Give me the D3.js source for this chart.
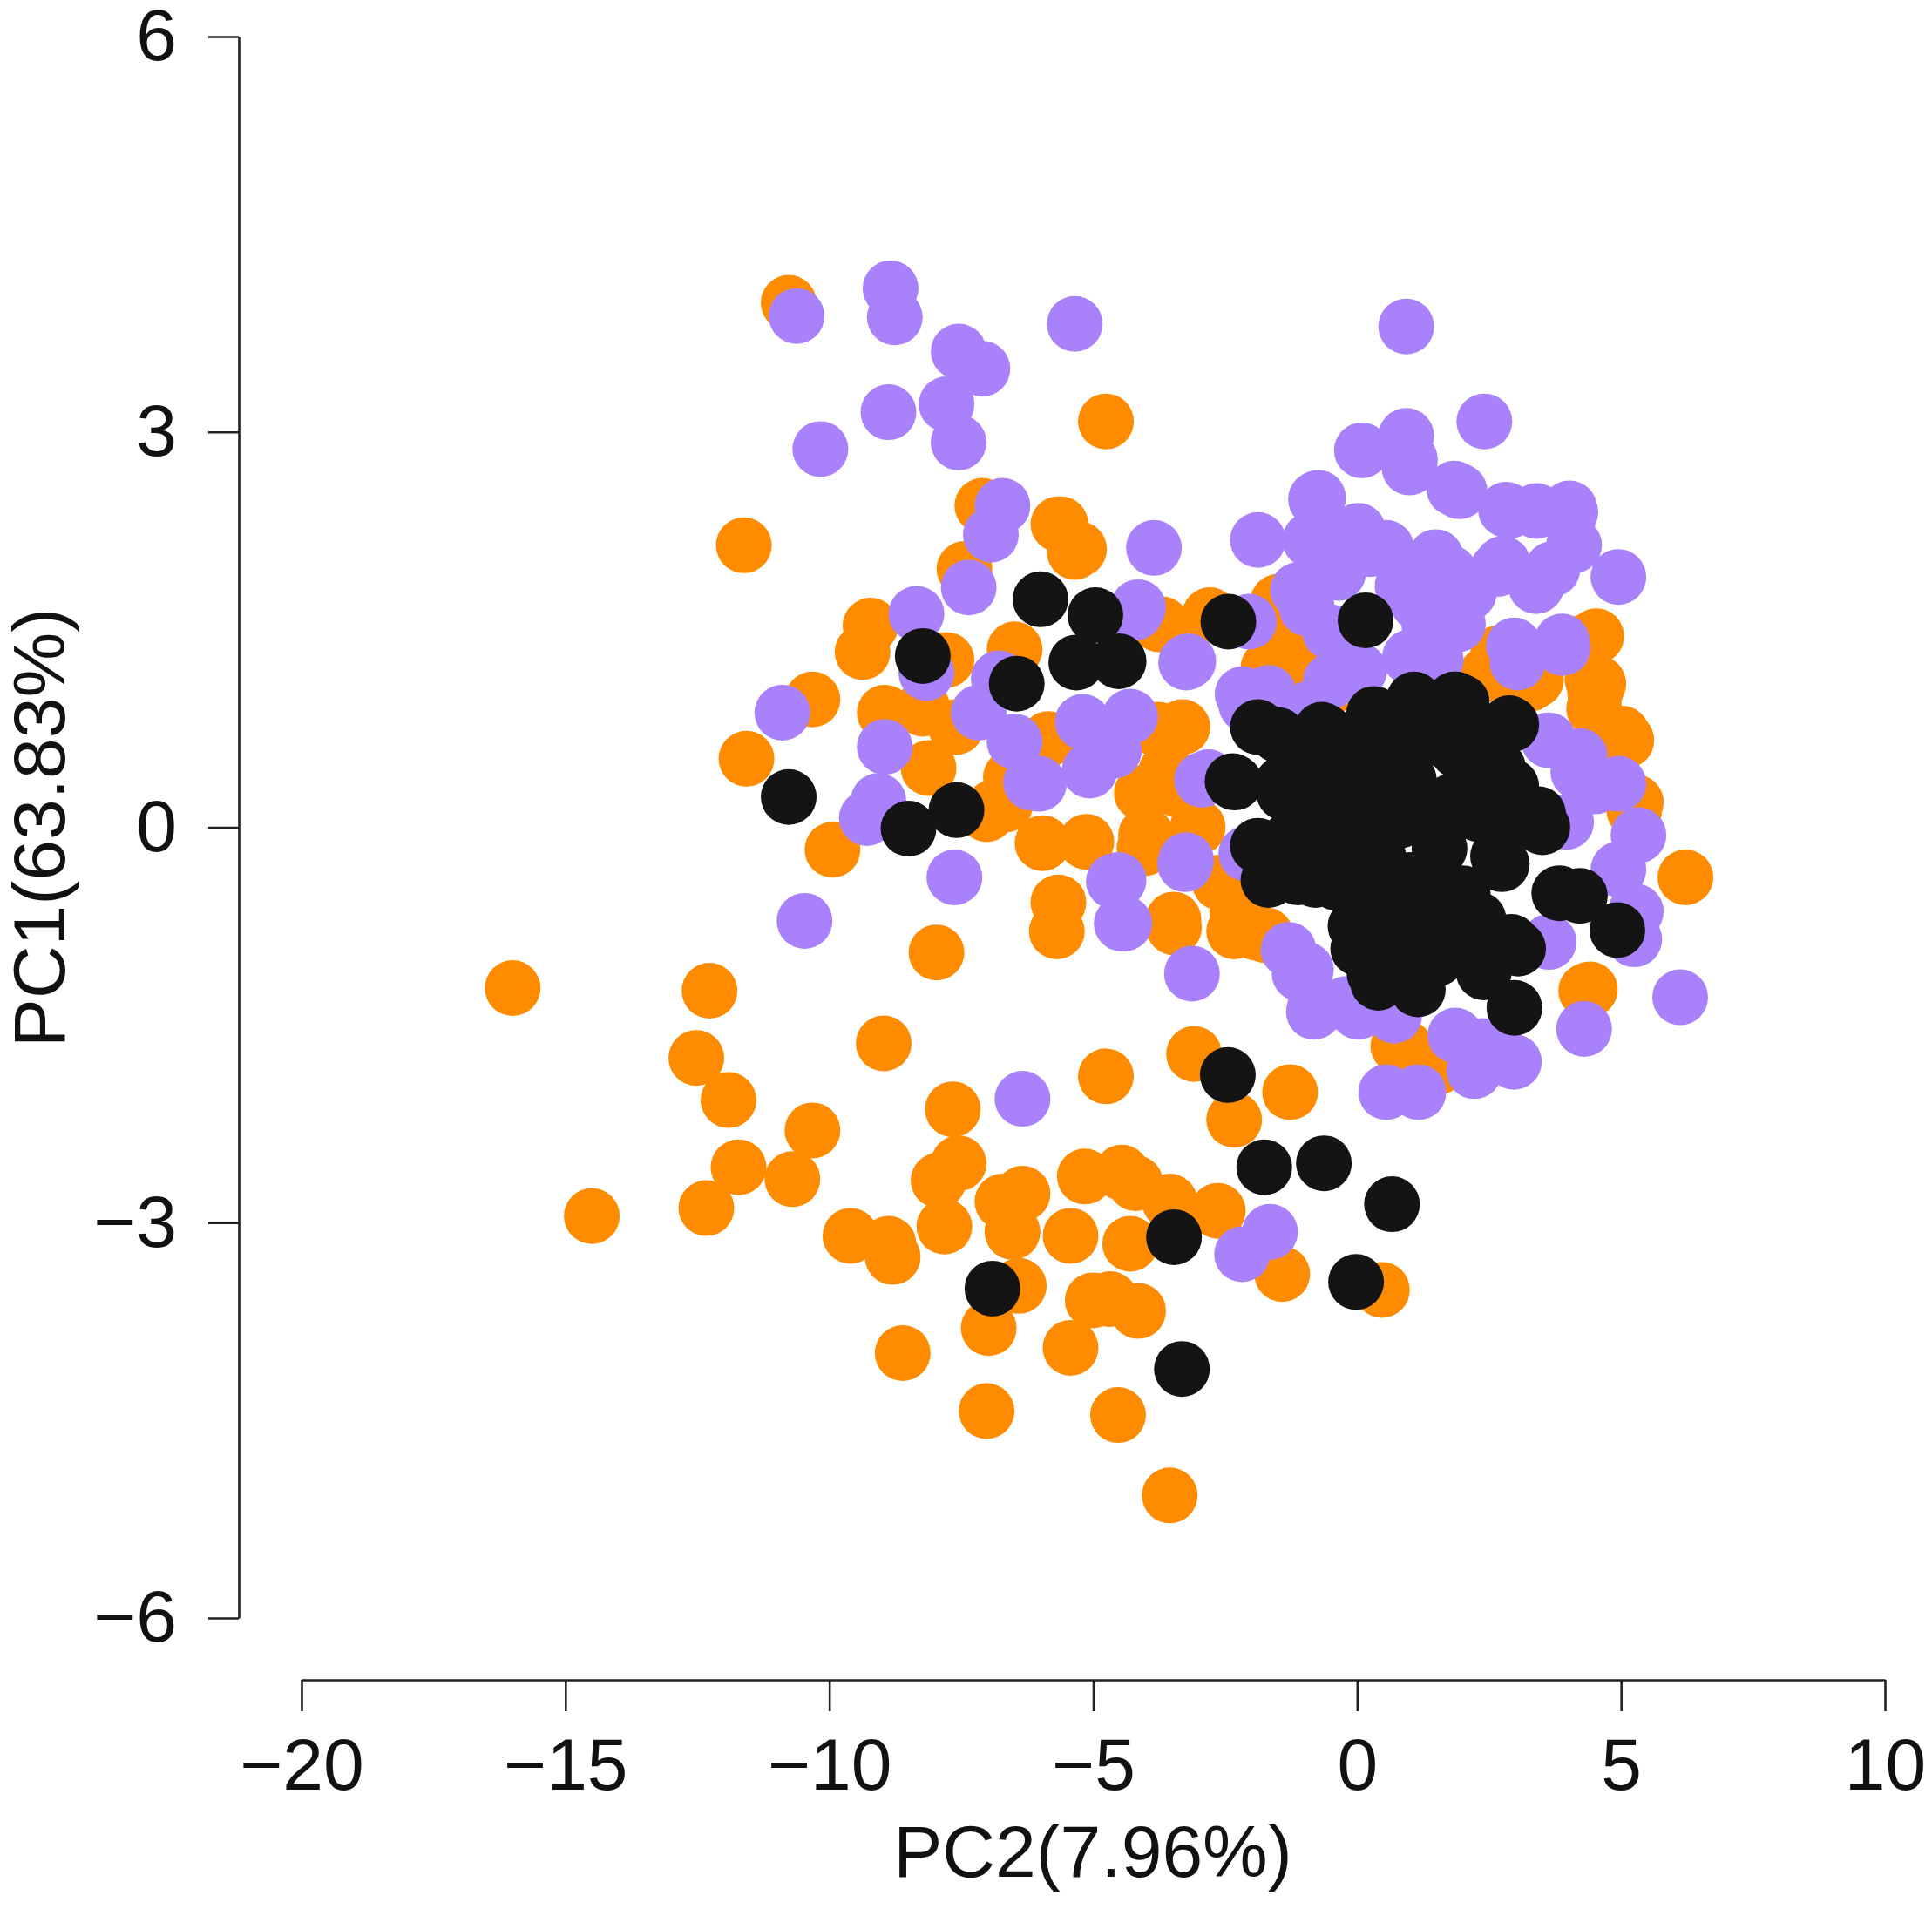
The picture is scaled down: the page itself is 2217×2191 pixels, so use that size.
<!DOCTYPE html>
<html>
<head>
<meta charset="utf-8">
<script src="https://cdn.jsdelivr.net/npm/d3@7"></script>
<style>
  body { margin: 0; background: #fff; }
  text { font-family: "Liberation Sans", Arial, sans-serif; }
</style>
</head>
<body>
<script>
//Data: [PC2, PC1] per sample
const orangePts = [
  [-16.0,-1.22],[-14.5,-2.95],[-11.62,2.14],[-11.57,0.52],[-10.77,3.98],[-10.32,0.97],[-9.94,-0.17],
  [-12.27,-1.24],[-12.52,-1.75],[-11.91,-2.07],[-11.72,-2.58],[-12.33,-2.89],[-10.70,-2.67],[-10.32,-2.30],
  [-8.97,-1.64],[-7.97,-0.95],[-5.69,-0.79],[-4.76,-1.89],[-7.66,-2.14],[-7.55,-2.55],[-7.93,-2.68],
  [-6.34,-2.78],[-6.72,-2.84],[-7.82,-3.03],[-6.53,-3.07],[-9.60,-3.10],[-8.88,-3.16],[-8.80,-3.26],
  [-5.43,-3.10],[-5.16,-2.65],[-6.41,-3.48],[-6.98,-3.80],[-8.61,-3.99],[-5.43,-3.95],[-7.02,-4.43],
  [-5.01,-3.59],[-4.53,-4.46],[-3.55,-5.07],[-4.46,-2.62],[-4.2,-2.7],[-3.55,-2.84],[-2.64,-2.91],
  [-4.30,-3.16],[-4.68,-3.58],[-4.15,-3.67],[-3.09,-1.72],[-2.33,-2.22],[-1.27,-2.01],[-1.42,-3.39],
  [0.47,-3.51],[-3.47,-0.76],[-2.33,-0.79],[-1.73,-0.82],[4.34,-1.24],[0.78,-1.66],[1.53,-1.82],
  [6.22,-0.38],[5.10,0.66],[4.51,1.02],[5.28,0.19],[-1.68,1.21],[-0.50,1.18],[2.45,1.16],[3.33,1.13],
  [-2.27,-0.64],[-1.91,-0.80],[-4.76,3.08],[-7.1,2.44],[-5.66,2.30],[-5.35,2.09],[-7.44,1.96],
  [-9.22,1.53],[-9.37,1.33],[-7.78,1.27],[-6.49,1.35],[-8.95,0.87],[-8.23,0.90],[-8.12,0.45],
  [-7.02,0.10],[-5.96,-0.12],[-5.66,-0.57],[-2.79,1.61],[-3.70,1.54],[-1.50,1.54],[-1.42,1.22],
  [-0.36,1.09],[4.34,1.41],[4.57,1.09],[5.02,0.71],[4.49,0.90],[3.28,1.09],[2.67,1.32],[-3.77,0.74],
  [-4.08,0.26],[-3.62,0.42],[-4.0,-0.06],[-3.02,0.0],[5.25,0.13],[-3.75,1.54],[-1.50,1.71],[-1.22,1.40],
  [-0.29,1.12],[-5.85,0.67],[-3.31,0.76],[-3.42,0.29],[-5.13,-0.11],[-4.03,-0.16],[-3.48,-0.70],
  [-2.21,-0.77],[-2.60,-0.42],[-6.67,0.17],[-7.6,0.76],[-6.56,0.38],[-5.62,2.30],[-5.27,2.11],
  [-6.9,0.15],[4.41,-1.23],[0.91,-1.67],[4.53,1.45],[4.46,1.12],[3.39,1.12],[-1.22,1.45]
];

const purplePts = [
  [-10.62,3.88],[-8.84,4.09],[-8.76,3.87],[-5.35,3.82],[-7.55,3.61],[-7.10,3.48],[-8.88,3.15],
  [-7.78,3.21],[-7.55,2.92],[-10.17,2.87],[-6.72,2.44],[-6.94,2.22],[-7.36,1.82],[-8.35,1.62],
  [-8.16,1.17],[-6.79,1.13],[-7.17,0.87],[-6.49,0.65],[-6.03,0.33],[-5.2,0.80],[-10.89,0.87],
  [-8.95,0.61],[-9.29,0.07],[-9.07,0.20],[-7.63,-0.38],[-10.47,-0.71],[0.93,3.80],[2.41,3.08],
  [0.93,2.97],[0.09,2.86],[1.0,2.79],[-0.74,2.50],[1.84,2.57],[2.82,2.41],[3.4,2.4],[4.04,2.39],
  [4.11,2.14],[4.95,1.90],[-3.85,2.12],[-1.88,2.18],[-0.89,2.18],[0.02,2.25],[0.55,2.12],[1.76,1.93],
  [2.67,1.96],[3.43,1.86],[-1.12,1.80],[-0.36,1.93],[1.16,1.70],[1.91,1.54],[2.97,1.38],[3.88,1.41],
  [-4.15,1.67],[-3.24,1.25],[-0.06,1.16],[-0.51,1.48],[1.0,1.29],[-2.10,0.93],[-2.94,0.36],
  [-4.30,0.84],[-4.61,0.58],[-3.24,-0.25],[-4.61,-0.41],[4.19,0.42],[4.95,0.33],[5.33,-0.06],
  [4.95,-0.32],[3.96,0.04],[-4.46,-0.73],[-3.13,-1.11],[-0.97,-1.08],[-0.82,-1.40],[5.25,-0.85],
  [6.12,-1.29],[4.30,-1.53],[2.37,-1.66],[2.97,-1.78],[2.22,-1.85],[0.55,-2.01],[1.16,-2.01],
  [0.02,-1.40],[0.70,-1.43],[-1.65,-3.07],[-2.18,-3.24],[-6.34,-2.06],[-4.2,1.63],[-3.2,1.26],
  [-2.05,1.56],[-0.95,1.66],[0.04,1.19],[-2.05,0.95],[-1.22,0.86],[-4.63,0.71],[-5.07,0.43],
  [-6.18,0.34],[-2.82,0.38],[-4.52,-0.40],[-3.26,-0.28],[-4.41,-0.73],[4.51,0.31],[5.28,-0.64],
  [4.22,0.54],[3.63,0.66],[-1.09,-1.11],[-0.79,-1.34],[-0.20,-1.34],[3.63,-0.87],[1.86,-1.58],
  [-1.68,1.02],[-0.50,1.11],[3.04,1.25],[-2.1,-0.2],[-1.3,-0.93],
  [0.99,2.73],[-0.78,2.49],[1.94,2.55],[2.88,2.40],[4.02,2.42],[-0.65,2.18],[0.23,2.11],[1.49,2.05],
  [2.76,2.00],[3.70,1.96],[-1.03,1.78],[0.86,1.83],[2.12,1.78],[3.39,1.83],[1.37,1.52],[3.07,1.34],
  [3.89,1.36],[-0.09,1.16],[1.49,1.27],[-2.17,1.01],[-0.91,0.90],[4.34,0.35]
];

const blackPts = [
  [-10.77,0.23],[-8.50,-0.01],[-7.59,0.13],[-8.23,1.30],[-6.0,1.73],[-6.45,1.09],[-5.32,1.25],
  [-4.96,1.61],[-4.52,1.26],[-2.44,1.56],[0.16,1.57],[-1.88,0.76],[-0.67,0.74],[0.32,0.86],[1.20,0.90],
  [-2.32,0.34],[-1.22,0.34],[-1.88,-0.14],[-1.61,-0.37],[-0.40,-0.42],[0.15,-0.89],[0.98,-1.13],
  [0.44,0.80],[1.98,0.95],[2.92,0.78],[-1.38,0.26],[-0.20,0.31],[0.98,0.36],[2.15,0.43],[2.92,0.31],
  [3.51,0.0],[-1.68,-0.40],[-0.79,-0.40],[0.39,-0.28],[1.56,-0.16],[2.74,-0.28],[4.22,-0.52],
  [4.93,-0.78],[-0.03,-0.75],[0.98,-0.75],[1.74,-0.83],[2.92,-0.87],[0.33,-1.11],[1.15,-1.23],
  [2.98,-1.37],[1.08,0.97],[1.84,0.97],[-1.42,0.33],[-0.36,0.48],[0.78,0.58],[1.91,0.58],[2.67,0.45],
  [3.43,0.10],[-1.12,-0.38],[0.40,-0.22],[1.53,-0.06],[2.67,-0.22],[0.02,-0.92],[0.40,-1.18],
  [1.76,-0.89],[3.05,-0.92],[3.83,-0.5],[0.6,0.2],[1.4,0.1],[2.3,0.1],[0.0,0.0],[-0.8,0.0],
  [1.0,-0.4],[2.0,-0.5],[0.5,-0.6],[-1.0,0.55],[-0.3,0.2],[0.0,0.5],[0.8,0.05],[1.8,0.2],
  [1.3,-0.5],[2.3,-0.7],[-0.5,-0.2],[-1.3,-0.1],[0.2,-0.5],[0.7,-0.9],[1.5,-1.0],[2.4,-1.1],
  [1.7,0.65],[2.5,0.7],[3.1,0.05],[-1.5,0.7],[-0.59,0.72],[0.36,0.83],[1.24,0.90],[1.87,0.97],
  [2.88,0.79],[-2.36,0.35],
  [-2.45,-1.88],[-1.76,-2.58],[-0.63,-2.55],[0.66,-2.86],
  [-3.47,-3.11],[-0.02,-3.45],[-3.32,-4.11],[-6.91,-3.50]
];

const groups = [
  {pts: orangePts, color: "#ff8c00"},
  {pts: purplePts, color: "#a982fb"},
  {pts: blackPts, color: "#141414"}
];

const xTicks = [-20, -15, -10, -5, 0, 5, 10];
const yTicks = [-6, -3, 0, 3, 6];
const xTitle = "PC2(7.96%)";
const yTitle = "PC1(63.83%)";

//Set up dimensions
const width = 2217;
const height = 2191;
const radius = 32;

//Scales
const xScale = d3.scaleLinear().domain([-20, 10]).range([346, 2163]);
const yScale = d3.scaleLinear().domain([-6, 6]).range([1857, 42]);

//SVG
const svg = d3.select("body")
    .append("svg")
    .attr("width", width)
    .attr("height", height);

//Points
groups.forEach(g => {
    svg.append("g")
        .selectAll("circle")
        .data(g.pts)
        .enter()
        .append("circle")
        .attr("cx", d => xScale(d[0]))
        .attr("cy", d => yScale(d[1]))
        .attr("r", radius)
        .attr("fill", g.color);
});

//Axes
const bottomAxis = d3.axisBottom(xScale)
    .tickValues(xTicks)
    .tickSize(36)
    .tickSizeOuter(0)
    .tickPadding(30);

const leftAxis = d3.axisLeft(yScale)
    .tickValues(yTicks)
    .tickSize(35)
    .tickSizeOuter(0)
    .tickPadding(36);

const gx = svg.append("g")
    .attr("transform", "translate(0,1928)")
    .call(bottomAxis);

const gy = svg.append("g")
    .attr("transform", "translate(274,0)")
    .call(leftAxis);

[gx, gy].forEach(g => {
    g.selectAll("path, line").attr("stroke", "#222").attr("stroke-width", 2.6);
    g.selectAll("text")
        .attr("font-size", 84)
        .attr("fill", "#111")
        .attr("font-family", "Liberation Sans, Arial, sans-serif");
});

//Axis titles
svg.append("text")
    .attr("x", 1254)
    .attr("y", 2154)
    .attr("text-anchor", "middle")
    .attr("font-size", 84)
    .attr("fill", "#111")
    .text(xTitle);

svg.append("text")
    .attr("transform", "translate(74,950) rotate(-90)")
    .attr("text-anchor", "middle")
    .attr("font-size", 84)
    .attr("fill", "#111")
    .text(yTitle);
</script>
</body>
</html>
